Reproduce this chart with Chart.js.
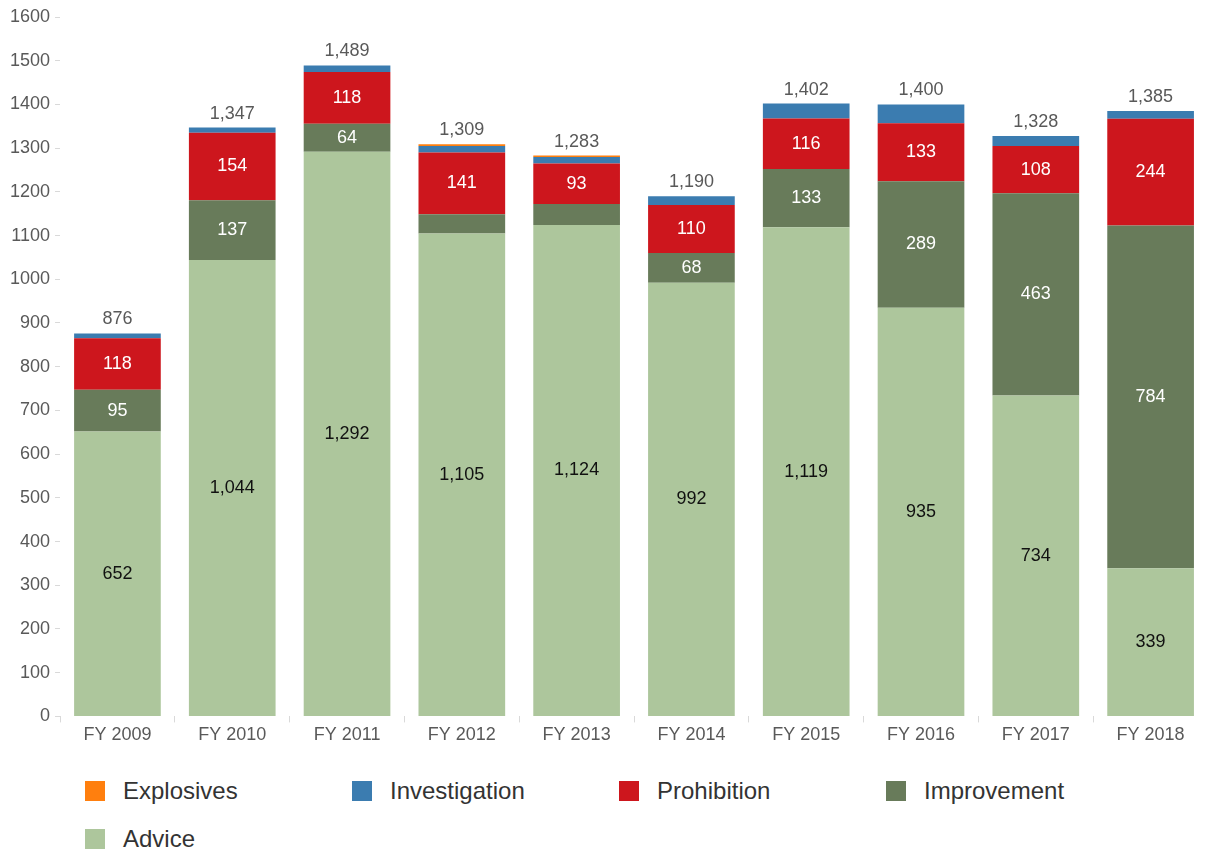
<!DOCTYPE html>
<html>
<head>
<meta charset="utf-8">
<script src="https://cdn.jsdelivr.net/npm/chart.js@4"></script>
<style>
  html, body { margin: 0; padding: 0; background: #fff; }
  body { width: 1208px; height: 850px; overflow: hidden; position: relative;
         font-family: "Liberation Sans", Arial, sans-serif; }
  #wrap { position: absolute; left: 0; top: 0; width: 1208px; height: 750px; }
  #legend { position: absolute; left: 85px; top: 777px; width: 1120px; }
  .item { position: absolute; display: flex; align-items: center; font-size: 24px; color: #333; }
  .box { width: 20px; height: 20px; margin-right: 18px; }
</style>
</head>
<body>
<div id="wrap"><canvas id="chart"></canvas></div>
<div id="legend"></div>
<script>
// categories
const years = ['FY 2009', 'FY 2010', 'FY 2011', 'FY 2012', 'FY 2013',
               'FY 2014', 'FY 2015', 'FY 2016', 'FY 2017', 'FY 2018'];

// series values
const advice        = [652, 1044, 1292, 1105, 1124, 992, 1119, 935, 734, 339];
const improvement   = [95, 137, 64, 44, 48, 68, 133, 289, 463, 784];
const prohibition   = [118, 154, 118, 141, 93, 110, 116, 133, 108, 244];
const investigation = [11, 12, 15, 15, 15, 20, 34, 43, 23, 18];
const explosives    = [0, 0, 0, 4, 3, 0, 0, 0, 0, 0];

// y tick labels
const yTicks = [0, 100, 200, 300, 400, 500, 600, 700, 800, 900, 1000,
                1100, 1200, 1300, 1400, 1500, 1600];

const colors = {
  Advice: '#adc69c',
  Improvement: '#687b5a',
  Prohibition: '#cd161d',
  Investigation: '#3b7cb0',
  Explosives: '#ff7f0e'
};

const FONT = '"Liberation Sans", Arial, sans-serif';
const fmt = n => n.toLocaleString('en-US');

// segment labels + total above each bar
const barLabels = {
  id: 'barLabels',
  afterDatasetsDraw(chart) {
    const ctx = chart.ctx;
    ctx.save();
    ctx.textAlign = 'center';
    ctx.textBaseline = 'middle';
    ctx.font = '18px ' + FONT;
    chart.data.datasets.forEach((ds, i) => {
      if (!ds.showLabel) return;
      chart.getDatasetMeta(i).data.forEach((bar, j) => {
        const h = Math.abs(bar.base - bar.y);
        if (h < 24) return;
        ctx.fillStyle = ds.labelColor;
        ctx.fillText(fmt(ds.data[j]), bar.x, (bar.y + bar.base) / 2);
      });
    });
    // totals
    const yScale = chart.scales.y;
    const xScale = chart.scales.x;
    ctx.fillStyle = '#595959';
    years.forEach((_, j) => {
      const total = chart.data.datasets.reduce((s, ds) => s + ds.data[j], 0);
      ctx.fillText(fmt(total), xScale.getPixelForValue(j), yScale.getPixelForValue(total) - 14);
    });
    ctx.restore();
  }
};

const datasets = [
  { label: 'Advice', data: advice, backgroundColor: colors.Advice, showLabel: true, labelColor: '#111' },
  { label: 'Improvement', data: improvement, backgroundColor: colors.Improvement, showLabel: true, labelColor: '#fff' },
  { label: 'Prohibition', data: prohibition, backgroundColor: colors.Prohibition, showLabel: true, labelColor: '#fff' },
  { label: 'Investigation', data: investigation, backgroundColor: colors.Investigation },
  { label: 'Explosives', data: explosives, backgroundColor: colors.Explosives }
];

new Chart(document.getElementById('chart'), {
  type: 'bar',
  data: { labels: years, datasets },
  options: {
    responsive: true,
    maintainAspectRatio: false,
    animation: false,
    datasets: { bar: { barPercentage: 0.755, categoryPercentage: 1 } },
    layout: { padding: { top: 17, left: 5, right: 0, bottom: 2 } },
    plugins: { legend: { display: false }, tooltip: { enabled: false } },
    scales: {
      x: {
        stacked: true,
        border: { display: false },
        grid: { display: true, drawOnChartArea: false, drawTicks: true, tickLength: 6, color: '#d9d9d9' },
        ticks: { color: '#595959', font: { size: 18, family: FONT }, padding: 2 }
      },
      y: {
        stacked: true,
        min: 0,
        max: 1600,
        afterBuildTicks: axis => { axis.ticks = yTicks.map(v => ({ value: v })); },
        border: { display: false },
        grid: { display: true, drawOnChartArea: false, drawTicks: true, tickLength: 5, color: '#d9d9d9' },
        ticks: { color: '#595959', font: { size: 18, family: FONT }, padding: 5, callback: v => String(v) }
      }
    }
  },
  plugins: [barLabels]
});

// legend laid out in a fixed grid, as in the reference
const legendOrder = ['Explosives', 'Investigation', 'Prohibition', 'Improvement', 'Advice'];
const legendEl = document.getElementById('legend');
legendOrder.forEach((name, k) => {
  const item = document.createElement('div');
  item.className = 'item';
  item.style.left = (k % 4) * 267 + 'px';
  item.style.top = Math.floor(k / 4) * 48 + 'px';
  item.innerHTML = '<span class="box" style="background:' + colors[name] + '"></span>' + name;
  legendEl.appendChild(item);
});
</script>
</body>
</html>
